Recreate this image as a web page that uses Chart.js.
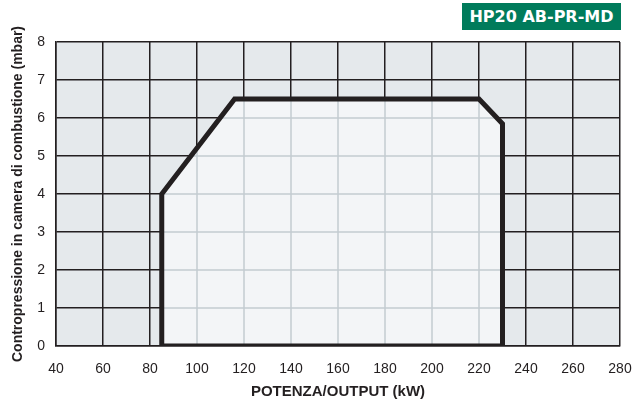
<!DOCTYPE html>
<html>
  <head>
    <title>HP20 AB-PR-MD</title>
    <script src="https://cdn.jsdelivr.net/npm/chart.js"></script>
    <style>
      body { margin: 0; background: #fff; }
      #wrap { position: relative; width: 636px; height: 401px; }
      #badge {
        position: absolute; left: 462px; top: 3px; width: 159px; height: 27px;
        background: #007b5b; color: #fff; font: bold 16px "DejaVu Sans", Arial, sans-serif;
        line-height: 27px; text-align: center;
      }
    </style>
  </head>
  <body>
    <div id="wrap">
      <canvas id="fieldChart" width="636" height="401"></canvas>
      <div id="badge">HP20 AB-PR-MD</div>
    </div>
    <script>
      // working field outline (kW, mbar)
      const outputKW = [85, 85, 116, 220, 230, 230];
      const pressureMbar = [0, 4, 6.5, 6.5, 5.85, 0];
      const xTicks = [40, 60, 80, 100, 120, 140, 160, 180, 200, 220, 240, 260, 280];
      const yTicks = [0, 1, 2, 3, 4, 5, 6, 7, 8];

      const ink = "#231f20";
      const points = outputKW.map((x, i) => ({ x: x, y: pressureMbar[i] }));

      // gray cells behind the grid
      const areaBg = {
        id: "areaBg",
        beforeDraw(chart) {
          const { ctx, chartArea: a } = chart;
          ctx.save();
          ctx.fillStyle = "#e5e9ec";
          ctx.fillRect(a.left, a.top, a.right - a.left, a.bottom - a.top);
          ctx.restore();
        },
      };

      // light grid lines inside the working field
      const innerGrid = {
        id: "innerGrid",
        afterDatasetDraw(chart, args) {
          if (args.index !== 0) return;
          const { ctx, scales } = chart;
          const xs = scales.x, ys = scales.y;
          ctx.save();
          ctx.beginPath();
          points.forEach((p, i) => {
            const px = xs.getPixelForValue(p.x), py = ys.getPixelForValue(p.y);
            if (i === 0) ctx.moveTo(px, py); else ctx.lineTo(px, py);
          });
          ctx.closePath();
          ctx.clip();
          ctx.strokeStyle = "#c3cbd1";
          ctx.lineWidth = 1.5;
          ctx.beginPath();
          xTicks.forEach((v) => {
            const px = xs.getPixelForValue(v);
            ctx.moveTo(px, ys.top); ctx.lineTo(px, ys.bottom);
          });
          yTicks.forEach((v) => {
            const py = ys.getPixelForValue(v);
            ctx.moveTo(xs.left, py); ctx.lineTo(xs.right, py);
          });
          ctx.stroke();
          ctx.restore();
        },
      };

      const tickFont = { family: "'Liberation Sans', Arial, sans-serif", size: 14 };

      new Chart(document.getElementById("fieldChart"), {
        type: "scatter",
        data: {
          datasets: [
            {
              data: points,
              showLine: true,
              fill: "origin",
              backgroundColor: "#f3f5f7",
              borderWidth: 0,
              pointRadius: 0,
              order: 2,
            },
            {
              data: points.concat([points[0]]),
              showLine: true,
              fill: false,
              borderColor: ink,
              borderWidth: 5,
              borderJoinStyle: "miter",
              pointRadius: 0,
              order: 1,
            },
          ],
        },
        options: {
          responsive: false,
          animation: false,
          layout: { padding: { top: 42, right: 16, left: 0, bottom: 0 } },
          plugins: { legend: { display: false }, tooltip: { enabled: false } },
          scales: {
            x: {
              type: "linear",
              min: 40,
              max: 280,
              afterBuildTicks: (s) => { s.ticks = xTicks.map((v) => ({ value: v })); },
              afterFit: (s) => {
                s.height = 55;
                s.paddingLeft = 0;
                s.paddingRight = 0;
              },
              grid: { color: ink, lineWidth: 1.5, drawTicks: false },
              border: { color: ink, width: 1.5 },
              ticks: { color: ink, font: tickFont, padding: 15 },
              title: {
                display: true,
                text: "POTENZA/OUTPUT (kW)",
                color: ink,
                font: { family: "'Liberation Sans', Arial, sans-serif", size: 15, weight: "bold" },
                padding: { top: 6, bottom: 0 },
              },
            },
            y: {
              min: 0,
              max: 8,
              afterBuildTicks: (s) => { s.ticks = yTicks.map((v) => ({ value: v })); },
              afterFit: (s) => { s.width = 56; },
              grid: { color: ink, lineWidth: 1.5, drawTicks: false },
              border: { color: ink, width: 1.5 },
              ticks: { color: ink, font: tickFont, padding: 11 },
              title: {
                display: true,
                text: "Contropressione in camera di combustione (mbar)",
                color: ink,
                font: { family: "'Liberation Sans', Arial, sans-serif", size: 14, weight: "bold" },
                padding: { top: 10, bottom: 4 },
              },
            },
          },
        },
        plugins: [areaBg, innerGrid],
      });
    </script>
  </body>
</html>
